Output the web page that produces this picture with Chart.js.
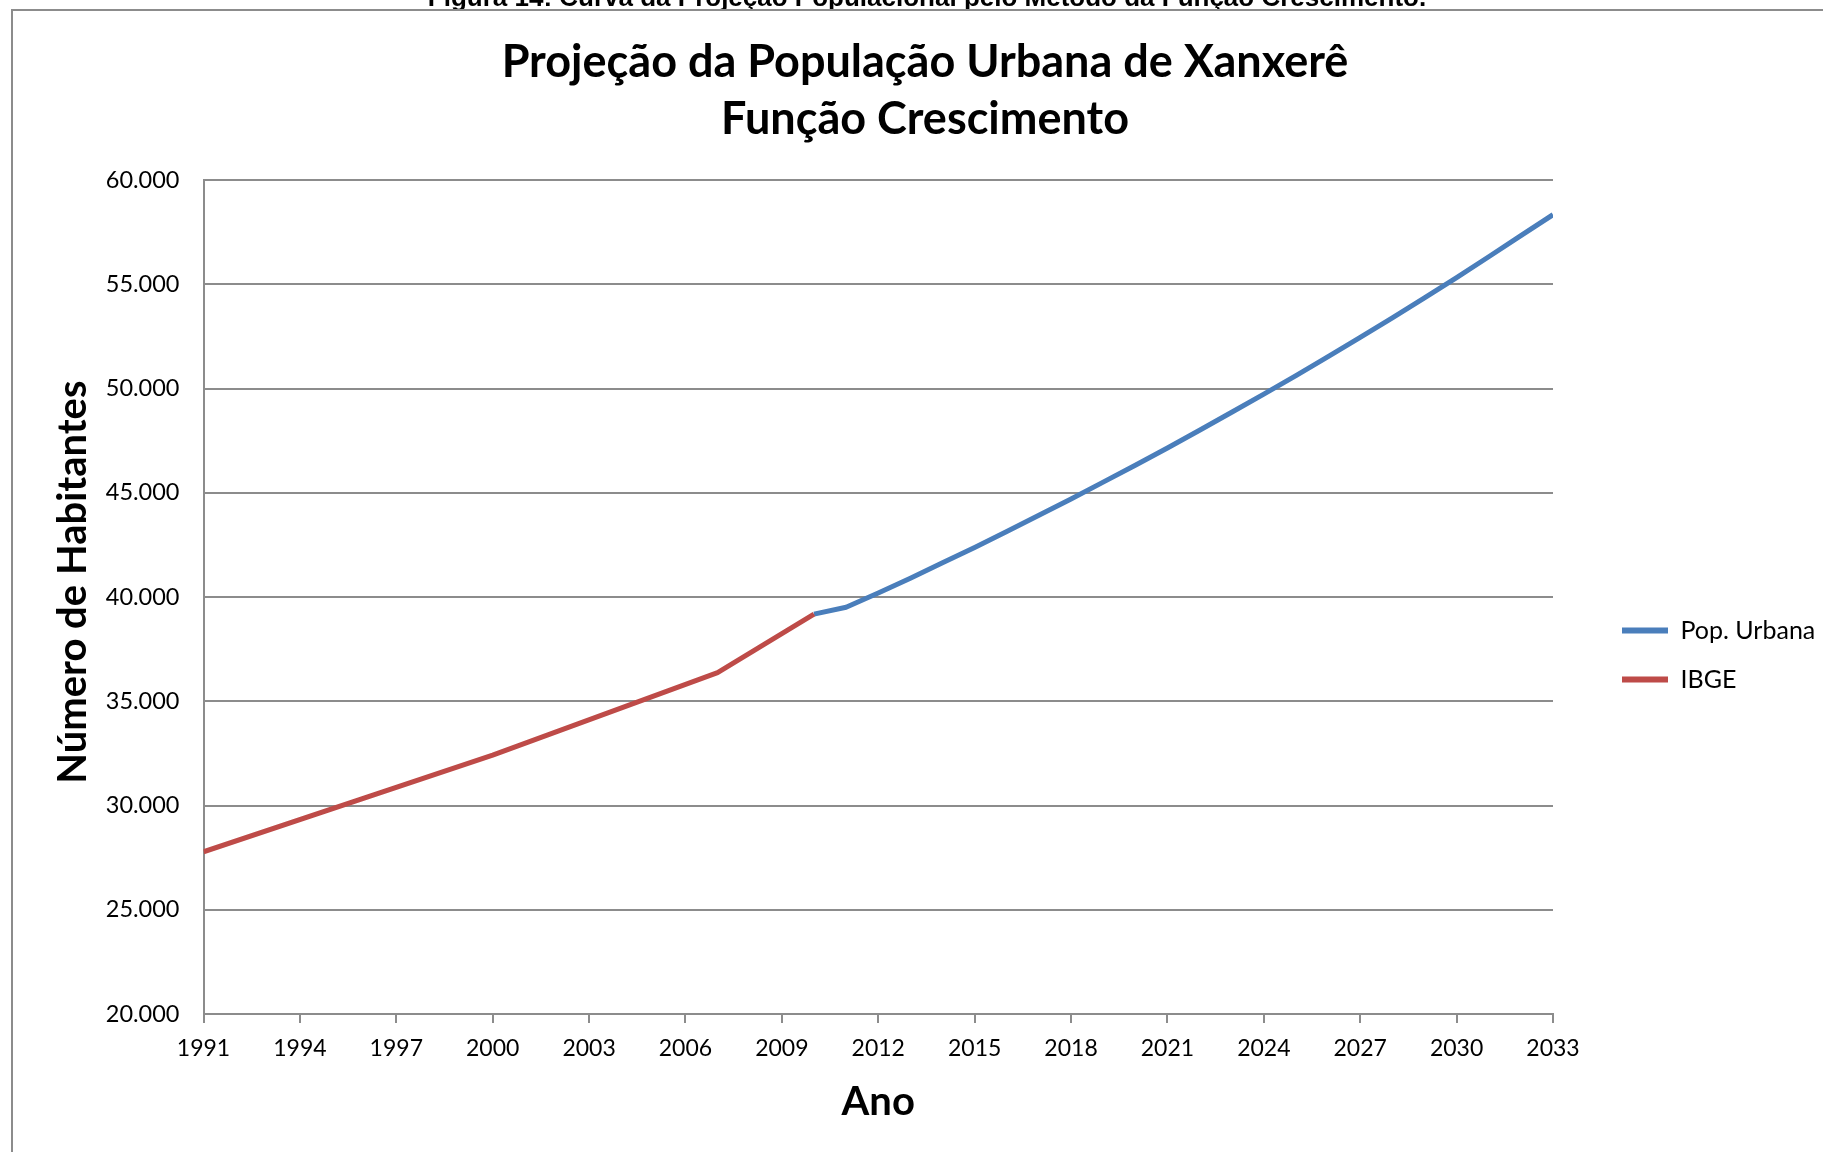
<!DOCTYPE html>
<html>
<head>
<meta charset="utf-8">
<script src="https://cdn.jsdelivr.net/npm/chart.js@4.4.1/dist/chart.umd.min.js"></script>
<style>
  html, body { margin: 0; padding: 0; background: #fff; overflow: hidden; }
  #wrap { position: relative; width: 1823px; height: 1152px; }
  #caption {
    position: absolute; left: 0; top: 0; width: 1823px; height: 9px;
    overflow: hidden; z-index: 2;
  }
  #caption span {
    position: absolute; left: 0; width: 1854px; top: -16px;
    text-align: center; font: bold 26px 'Liberation Sans', Arial, sans-serif;
    line-height: 26px; color: #000; white-space: nowrap;
  }
</style>
</head>
<body>
<div id="wrap">
  <div id="caption"><span>Figura 14: Curva da Projeção Populacional pelo Método da Função Crescimento.</span></div>
  <canvas id="chart" width="1823" height="1152"></canvas>
</div>
<script>
// dados
const ibgeYears = [1991, 2000, 2007, 2010];
const ibgeValues = [27780, 32420, 36370, 39180];

const popYears = [2010, 2011, 2012, 2013, 2014, 2015, 2016, 2017, 2018, 2019, 2020, 2021,
                  2022, 2023, 2024, 2025, 2026, 2027, 2028, 2029, 2030, 2031, 2032, 2033];
const popValues = [39180, 39510, 40190, 40900, 41640, 42380, 43140, 43920, 44700, 45510, 46320, 47150,
                   48000, 48860, 49730, 50620, 51530, 52450, 53390, 54350, 55320, 56320, 57330, 58340];

const xTicks = [1991, 1994, 1997, 2000, 2003, 2006, 2009, 2012, 2015, 2018, 2021, 2024, 2027, 2030, 2033];
const yTicks = [20000, 25000, 30000, 35000, 40000, 45000, 50000, 55000, 60000];
const yTickLabels = ['20.000', '25.000', '30.000', '35.000', '40.000', '45.000', '50.000', '55.000', '60.000'];

const gridColor = '#8c8c8c';
const font = 'Lato';
const legendPad = 24;

// moldura do gráfico (a imagem está cortada à direita e embaixo)
const frame = {
    id: 'frame',
    beforeDraw(chart) {
        const c = chart.ctx;
        c.save();
        c.fillStyle = '#fff';
        c.fillRect(0, 0, chart.width, chart.height);
        c.strokeStyle = '#8c8c8c';
        c.lineWidth = 2;
        c.beginPath();
        c.moveTo(12, chart.height + 5);
        c.lineTo(12, 10);
        c.lineTo(chart.width + 5, 10);
        c.stroke();
        c.restore();
    },
    afterLayout(chart) {
        // aproxima a legenda da posição do original
        const lg = chart.legend;
        const dx = 1622 - legendPad - lg.left;
        const dy = 79;
        lg.left += dx; lg.right += dx;
        lg.top += dy; lg.bottom += dy;
    }
};

const ctx = document.getElementById('chart').getContext('2d');

new Chart(ctx, {
    type: 'line',
    data: {
        datasets: [{
            label: 'Pop. Urbana',
            data: popYears.map((y, i) => ({x: y, y: popValues[i]})),
            borderColor: '#4a7ebb',
            backgroundColor: '#4a7ebb',
            borderWidth: 5,
            pointRadius: 0,
            borderJoinStyle: 'round',
            order: 1
        }, {
            label: 'IBGE',
            data: ibgeYears.map((y, i) => ({x: y, y: ibgeValues[i]})),
            borderColor: '#be4b48',
            backgroundColor: '#be4b48',
            borderWidth: 5,
            pointRadius: 0,
            borderJoinStyle: 'round',
            order: 0
        }]
    },
    options: {
        responsive: false,
        animation: false,
        devicePixelRatio: 1,
        layout: { padding: { left: 27, right: 0, top: 0, bottom: 0 } },
        plugins: {
            title: {
                display: true,
                text: ['Projeção da População Urbana de Xanxerê', 'Função Crescimento'],
                color: '#000',
                font: { family: font, size: 45, weight: 'bold', lineHeight: 1.267 },
                padding: { top: 34, bottom: 32 }
            },
            legend: {
                position: 'right',
                labels: {
                    color: '#000',
                    font: { family: font, size: 25 },
                    boxWidth: 46,
                    boxHeight: 6,
                    padding: legendPad,
                    sort: (a, b) => a.datasetIndex - b.datasetIndex,
                    generateLabels(chart) {
                        const items = Chart.defaults.plugins.legend.labels.generateLabels(chart);
                        items.forEach(it => { it.lineWidth = 0; it.fillStyle = it.strokeStyle; });
                        return items;
                    }
                }
            },
            tooltip: { enabled: false }
        },
        scales: {
            x: {
                type: 'linear',
                min: 1991,
                max: 2033,
                afterBuildTicks: s => { s.ticks = xTicks.map(v => ({value: v})); },
                afterFit: s => { s.height = 138; s.paddingRight = 1823 - 1553; },
                grid: {
                    display: true,
                    drawOnChartArea: false,
                    drawTicks: true,
                    tickLength: 9,
                    color: gridColor,
                    lineWidth: 2
                },
                border: { display: true, color: gridColor, width: 2 },
                ticks: {
                    color: '#000',
                    font: { family: font, size: 23 },
                    padding: 12,
                    maxRotation: 0,
                    autoSkip: false,
                    callback: v => String(v)
                },
                title: {
                    display: true,
                    text: 'Ano',
                    color: '#000',
                    font: { family: font, size: 40, weight: 'bold' },
                    padding: { top: 0, bottom: 26 }
                }
            },
            y: {
                min: 20000,
                max: 60000,
                afterBuildTicks: s => { s.ticks = yTicks.map(v => ({value: v})); },
                afterFit: s => { s.width = 176.5; },
                grid: {
                    color: gridColor,
                    lineWidth: 2,
                    drawTicks: false
                },
                border: { display: true, color: gridColor, width: 2 },
                ticks: {
                    color: '#000',
                    font: { family: font, size: 23.5 },
                    padding: 24,
                    autoSkip: false,
                    callback: v => yTickLabels[yTicks.indexOf(v)]
                },
                title: {
                    display: true,
                    text: '\u2002 Número de Habitantes',
                    color: '#000',
                    font: { family: font, size: 40, weight: 'bold' },
                    padding: { top: 22, bottom: 0 }
                }
            }
        }
    },
    plugins: [frame]
});
</script>
</body>
</html>
